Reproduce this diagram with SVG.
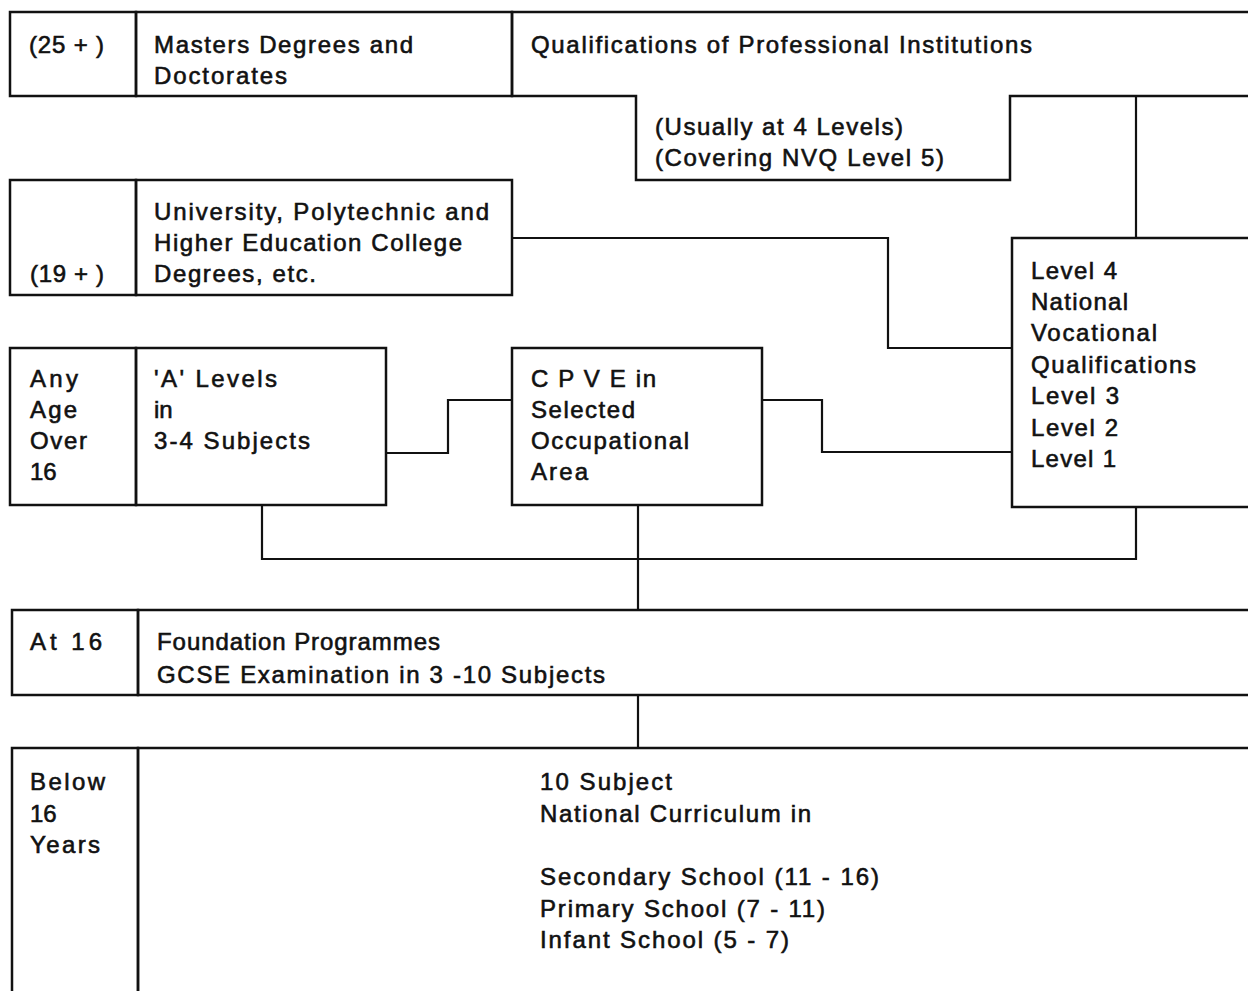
<svg xmlns="http://www.w3.org/2000/svg" width="1248" height="991" viewBox="0 0 1248 991">
<style>
.box{fill:none;stroke:#111;stroke-width:2.5}
.con{fill:none;stroke:#111;stroke-width:2.2}
text{font-family:"Liberation Sans",Arial,sans-serif;font-size:24px;fill:#111;stroke:#111;stroke-width:0.6}
</style>
<rect width="1248" height="991" fill="#fff"/>
<g id="connectors">
<path class="con" d="M1136,96 V238"/>
<path class="con" d="M512,238 H888 V348 H1012"/>
<path class="con" d="M386,453 H448 V400 H512"/>
<path class="con" d="M762,400 H822 V452 H1012"/>
<path class="con" d="M262,505 V559 H1136 V507"/>
<path class="con" d="M638,505 V610"/>
<path class="con" d="M638,695 V748"/>
</g>
<g id="n-masters">
<rect class="box" x="10" y="12" width="126" height="84"/>
<rect class="box" x="136" y="12" width="376" height="84"/>
<text x="29" y="53" textLength="75" lengthAdjust="spacing">(25 + )</text>
<text x="154" y="53" textLength="259" lengthAdjust="spacing">Masters Degrees and</text>
<text x="154" y="84" textLength="133" lengthAdjust="spacing">Doctorates</text>
</g>
<g id="n-professional">
<path class="box" d="M1252,12 H512 V96 H636 V180 H1010 V96 H1252"/>
<text x="531" y="53" textLength="501" lengthAdjust="spacing">Qualifications of Professional Institutions</text>
<text x="655" y="135" textLength="248" lengthAdjust="spacing">(Usually at 4 Levels)</text>
<text x="655" y="166" textLength="289" lengthAdjust="spacing">(Covering NVQ Level 5)</text>
</g>
<g id="n-degrees">
<rect class="box" x="10" y="180" width="126" height="115"/>
<rect class="box" x="136" y="180" width="376" height="115"/>
<text x="30" y="282" textLength="74" lengthAdjust="spacing">(19 + )</text>
<text x="154" y="220" textLength="335" lengthAdjust="spacing">University, Polytechnic and</text>
<text x="154" y="251" textLength="308" lengthAdjust="spacing">Higher Education College</text>
<text x="154" y="282" textLength="162" lengthAdjust="spacing">Degrees, etc.</text>
</g>
<g id="n-nvq">
<rect class="box" x="1012" y="238" width="240" height="269"/>
<text x="1031" y="279" textLength="86" lengthAdjust="spacing">Level 4</text>
<text x="1031" y="310" textLength="97" lengthAdjust="spacing">National</text>
<text x="1031" y="341" textLength="126" lengthAdjust="spacing">Vocational</text>
<text x="1031" y="373" textLength="165" lengthAdjust="spacing">Qualifications</text>
<text x="1031" y="404" textLength="88" lengthAdjust="spacing">Level 3</text>
<text x="1031" y="436" textLength="87" lengthAdjust="spacing">Level 2</text>
<text x="1031" y="467" textLength="85" lengthAdjust="spacing">Level 1</text>
</g>
<g id="n-alevels">
<rect class="box" x="10" y="348" width="126" height="157"/>
<rect class="box" x="136" y="348" width="250" height="157"/>
<text x="30" y="387" textLength="48" lengthAdjust="spacing">Any</text>
<text x="30" y="418" textLength="47" lengthAdjust="spacing">Age</text>
<text x="30" y="449" textLength="57" lengthAdjust="spacing">Over</text>
<text x="30" y="480">16</text>
<text x="154" y="387" textLength="123" lengthAdjust="spacing">'A' Levels</text>
<text x="154" y="418">in</text>
<text x="154" y="449" textLength="156" lengthAdjust="spacing">3-4 Subjects</text>
</g>
<g id="n-cpve">
<rect class="box" x="512" y="348" width="250" height="157"/>
<text x="531" y="387" textLength="125" lengthAdjust="spacing">C P V E in</text>
<text x="531" y="418" textLength="104" lengthAdjust="spacing">Selected</text>
<text x="531" y="449" textLength="158" lengthAdjust="spacing">Occupational</text>
<text x="531" y="480" textLength="57" lengthAdjust="spacing">Area</text>
</g>
<g id="n-at16">
<rect class="box" x="12" y="610" width="126" height="85"/>
<rect class="box" x="138" y="610" width="1114" height="85"/>
<text x="30" y="650" textLength="72" lengthAdjust="spacing">At 16</text>
<text x="157" y="650" textLength="283" lengthAdjust="spacing">Foundation Programmes</text>
<text x="157" y="683" textLength="448" lengthAdjust="spacing">GCSE Examination in 3 -10 Subjects</text>
</g>
<g id="n-below16">
<rect class="box" x="12" y="748" width="126" height="250"/>
<rect class="box" x="138" y="748" width="1114" height="250"/>
<text x="30" y="790" textLength="75" lengthAdjust="spacing">Below</text>
<text x="30" y="822">16</text>
<text x="30" y="853" textLength="70" lengthAdjust="spacing">Years</text>
<text x="540" y="790" textLength="132" lengthAdjust="spacing">10 Subject</text>
<text x="540" y="822" textLength="271" lengthAdjust="spacing">National Curriculum in</text>
<text x="540" y="885" textLength="339" lengthAdjust="spacing">Secondary School (11 - 16)</text>
<text x="540" y="917" textLength="285" lengthAdjust="spacing">Primary School (7 - 11)</text>
<text x="540" y="948" textLength="249" lengthAdjust="spacing">Infant School (5 - 7)</text>
</g>
</svg>
